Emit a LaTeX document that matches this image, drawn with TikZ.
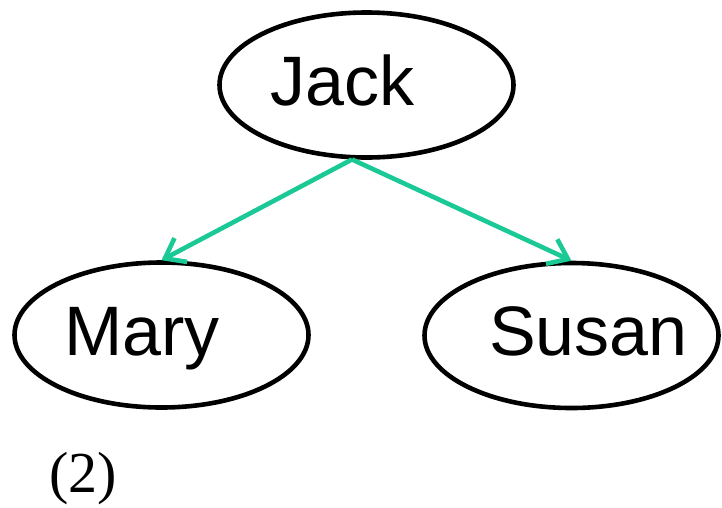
\documentclass[tikz,border=0pt]{standalone}
\usepackage{fontspec}
\setmainfont{Liberation Serif}
\newfontfamily\arialfont{Liberation Sans}
\usetikzlibrary{shapes.geometric,arrows.meta}
\definecolor{edgegreen}{RGB}{26,201,150}
\tikzset{
  personbox/.style={draw=black, line width=4.6pt, ellipse, minimum width=294pt, minimum height=145pt, inner sep=0pt},
  nametext/.style={font=\arialfont\fontsize{70}{70}\selectfont, anchor=base, inner sep=0pt},
  linkarrow/.style={draw=edgegreen, line width=4.6pt, -{Straight Barb[length=18pt,width=27pt,line width=4.6pt]}},
  captiontext/.style={font=\fontsize{58}{58}\selectfont, anchor=base, inner sep=0pt}
}
\begin{document}
\begin{tikzpicture}[x=1pt,y=-1pt]
\useasboundingbox (0,0) rectangle (722,507);
\node[personbox] (jack) at (366.5,85) {};
\node[personbox] (mary) at (161.5,335) {};
\node[personbox] (susan) at (571.5,335.5) {};
\node[nametext] (jacktext) at (342.5,105) {Jack};
\node[nametext] (marytext) at (142,355) {Mary};
\node[nametext] (susantext) at (588.5,355) {Susan};
\node[captiontext] (numlabel) at (83,492) {(2)};
\draw[linkarrow] (jack.259) -- (mary.north);
\draw[linkarrow] (jack.259) -- (susan.north);
\end{tikzpicture}
\end{document}
